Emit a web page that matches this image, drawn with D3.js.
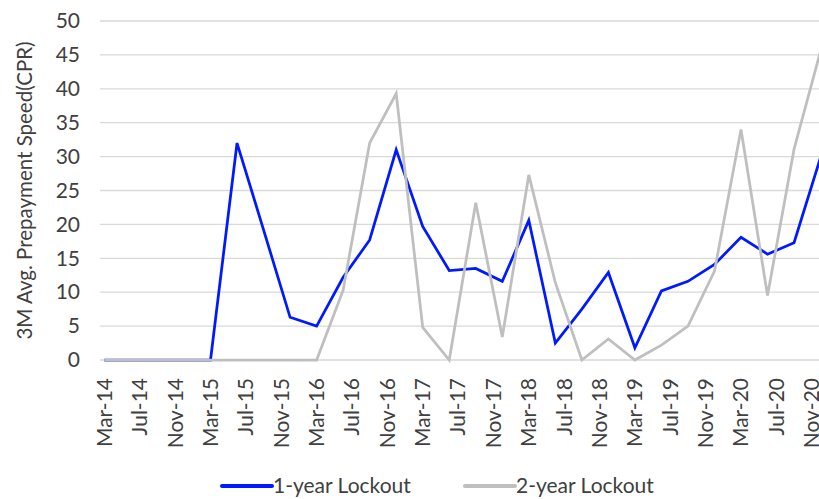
<!DOCTYPE html>
<html>
<head>
<meta charset="utf-8">
<script src="https://cdn.jsdelivr.net/npm/d3@7"></script>
<style>
  body { margin: 0; background: #fff; }
  svg text { font-family: Lato, "Open Sans", sans-serif; fill: #404040; }
</style>
</head>
<body>
<div id="chart"></div>
<script>
// Quarterly observations
const quarters = ["Mar-14", "Jun-14", "Sep-14", "Dec-14", "Mar-15", "Jun-15", "Sep-15", "Dec-15",
  "Mar-16", "Jun-16", "Sep-16", "Dec-16", "Mar-17", "Jun-17", "Sep-17", "Dec-17",
  "Mar-18", "Jun-18", "Sep-18", "Dec-18", "Mar-19", "Jun-19", "Sep-19", "Dec-19",
  "Mar-20", "Jun-20", "Sep-20", "Dec-20"];

const lockout1 = [0, 0, 0, 0, 0, 32.0, 19.2, 6.3, 5.0, 12.2, 17.7, 31.0, 19.7, 13.2,
  13.5, 11.6, 20.6, 2.5, 7.5, 12.9, 1.8, 10.2, 11.6, 14.1, 18.1, 15.6, 17.3, 29.9];

const lockout2 = [0, 0, 0, 0, 0, 0, 0, 0, 0, 10.3, 32.0, 39.3, 4.8, 0,
  23.2, 3.4, 27.3, 11.4, 0, 3.1, 0, 2.2, 5.0, 13.1, 34.0, 9.5, 31.1, 45.6];

const tickLabels = ["Mar-14", "Jul-14", "Nov-14", "Mar-15", "Jul-15", "Nov-15", "Mar-16",
  "Jul-16", "Nov-16", "Mar-17", "Jul-17", "Nov-17", "Mar-18", "Jul-18", "Nov-18",
  "Mar-19", "Jul-19", "Nov-19", "Mar-20", "Jul-20", "Nov-20"];

const yTicks = [0, 5, 10, 15, 20, 25, 30, 35, 40, 45, 50];

const series = [
  { name: "1-year Lockout", values: lockout1, color: "#0019ff" },
  { name: "2-year Lockout", values: lockout2, color: "#bfbfbf" }
];

// monthly date axis (one band per month)
const fmt = d3.timeFormat("%b-%y");
const months = d3.timeMonth.range(new Date(2014, 2, 1), new Date(2021, 0, 1)).map(fmt);

const width = 819;
const height = 499;
const margin = { top: 21, right: -6, bottom: 139, left: 100 };

const svg = d3.select("#chart").append("svg")
  .attr("width", width)
  .attr("height", height);

const x = d3.scaleBand()
  .domain(months)
  .range([margin.left, width - margin.right])
  .padding(0);

const y = d3.scaleLinear()
  .domain([0, 50])
  .range([height - margin.bottom, margin.top]);

const cx = d => x(d) + x.bandwidth() / 2;

// gridlines
svg.append("g")
  .selectAll("line")
  .data(yTicks)
  .join("line")
  .attr("x1", margin.left)
  .attr("x2", width - margin.right)
  .attr("y1", d => y(d))
  .attr("y2", d => y(d))
  .attr("stroke", "#d9d9d9")
  .attr("stroke-width", 1.3);

// y axis labels
const yAxis = svg.append("g")
  .attr("transform", `translate(${margin.left - 19},0)`)
  .call(d3.axisLeft(y).tickValues(yTicks).tickSize(0).tickPadding(1));
yAxis.select(".domain").remove();
yAxis.selectAll("text").style("font-size", "21px");

// x axis labels
const xAxis = svg.append("g")
  .attr("transform", `translate(0,${y(0)})`)
  .call(d3.axisBottom(x).tickValues(tickLabels).tickSize(0));
xAxis.select(".domain").remove();
xAxis.selectAll("text")
  .style("font-size", "21px")
  .style("text-anchor", "end")
  .attr("transform", "rotate(-90)")
  .attr("x", -18)
  .attr("y", 0)
  .attr("dy", "0.35em");

// y axis title
svg.append("text")
  .attr("transform", `translate(25,${(y(0) + y(50)) / 2}) rotate(-90)`)
  .attr("text-anchor", "middle")
  .attr("dy", "0.35em")
  .style("font-size", "20.5px")
  .text("3M Avg. Prepayment Speed(CPR)");

// lines
const line = d3.line()
  .x((d, i) => cx(quarters[i]))
  .y(d => y(d));

svg.append("g")
  .selectAll("path")
  .data(series)
  .join("path")
  .attr("d", d => line(d.values))
  .attr("fill", "none")
  .attr("stroke", d => d.color)
  .attr("stroke-width", 2.75)
  .attr("stroke-linejoin", "miter");

// legend
const legendX = [222, 465];
const legend = svg.append("g")
  .selectAll("g")
  .data(series)
  .join("g")
  .attr("transform", (d, i) => `translate(${legendX[i]},486)`);

legend.append("line")
  .attr("x1", 0)
  .attr("x2", 50)
  .attr("stroke", d => d.color)
  .attr("stroke-width", 4)
  .attr("stroke-linecap", "round");

legend.append("text")
  .attr("x", 51)
  .attr("dy", "0.32em")
  .style("font-size", "21px")
  .text(d => d.name);
</script>
</body>
</html>
